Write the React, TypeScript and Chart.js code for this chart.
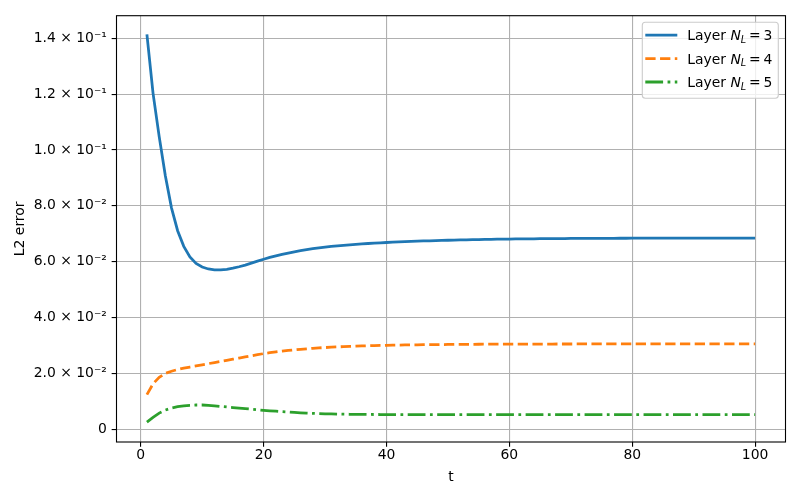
import React, { useEffect, useRef } from "react";
import { Chart, registerables } from "chart.js";

Chart.register(...registerables);

const tValues = [
  1, 2, 3, 4, 5, 6, 7, 8, 9, 10, 11, 12, 13, 14, 15, 16, 17, 18, 19, 20,
  21, 22, 23, 24, 25, 26, 27, 28, 29, 30, 31, 32, 33, 34, 35, 36, 37, 38, 39, 40,
  41, 42, 43, 44, 45, 46, 47, 48, 49, 50, 51, 52, 53, 54, 55, 56, 57, 58, 59, 60,
  61, 62, 63, 64, 65, 66, 67, 68, 69, 70, 71, 72, 73, 74, 75, 76, 77, 78, 79, 80,
  81, 82, 83, 84, 85, 86, 87, 88, 89, 90, 91, 92, 93, 94, 95, 96, 97, 98, 99, 100,
];

const layer3 = [
  0.1414, 0.1203, 0.1048, 0.0908, 0.0793, 0.0711, 0.0655, 0.0617, 0.0594, 0.0581,
  0.0574, 0.0571, 0.0571, 0.0573, 0.0577, 0.0582, 0.0588, 0.0595, 0.0602, 0.0609,
  0.06153, 0.06211, 0.06264, 0.06312, 0.06356, 0.06396, 0.06432, 0.06465, 0.06495, 0.06522,
  0.06547, 0.06569, 0.06589, 0.06607, 0.06624, 0.06639, 0.06653, 0.06666, 0.06678, 0.06689,
  0.06699, 0.06709, 0.06718, 0.06727, 0.06735, 0.06743, 0.0675, 0.06757, 0.06763, 0.06769,
  0.06775, 0.0678, 0.06785, 0.0679, 0.06794, 0.06798, 0.06802, 0.06806, 0.06809, 0.06812,
  0.06815, 0.06818, 0.0682, 0.06822, 0.06824, 0.06826, 0.06828, 0.0683, 0.06831, 0.06833,
  0.06834, 0.06835, 0.06836, 0.06837, 0.06838, 0.06839, 0.0684, 0.06841, 0.06841, 0.06842,
  0.06843, 0.06843, 0.06844, 0.06844, 0.06845, 0.06845, 0.06845, 0.06846, 0.06846, 0.06846,
  0.06847, 0.06847, 0.06847, 0.06847, 0.06847, 0.06847, 0.06847, 0.06847, 0.06847, 0.06847,
];

const layer4 = [
  0.0124, 0.0163, 0.0186, 0.02, 0.0208, 0.0214, 0.0219, 0.0223, 0.0227, 0.0231,
  0.0235, 0.0239, 0.0243, 0.0247, 0.0251, 0.0255, 0.0259, 0.0263, 0.0267, 0.0271,
  0.02742, 0.02772, 0.02799, 0.02823, 0.02845, 0.02865, 0.02883, 0.02899, 0.02914, 0.02927,
  0.02939, 0.0295, 0.0296, 0.02969, 0.02977, 0.02984, 0.02991, 0.02997, 0.03002, 0.03007,
  0.03011, 0.03015, 0.03019, 0.03022, 0.03025, 0.03028, 0.03031, 0.03033, 0.03035, 0.03037,
  0.03039, 0.03041, 0.03042, 0.03044, 0.03045, 0.03046, 0.03047, 0.03048, 0.03049, 0.0305,
  0.03051, 0.03051, 0.03052, 0.03052, 0.03053, 0.03053, 0.03053, 0.03054, 0.03054, 0.03054,
  0.03055, 0.03055, 0.03055, 0.03055, 0.03055, 0.03056, 0.03056, 0.03056, 0.03056, 0.03056,
  0.03056, 0.03056, 0.03056, 0.03056, 0.03056, 0.03056, 0.03056, 0.03056, 0.03056, 0.03056,
  0.03056, 0.03056, 0.03056, 0.03056, 0.03056, 0.03056, 0.03056, 0.03056, 0.03056, 0.03056,
];

const layer5 = [
  0.0026, 0.0043, 0.0058, 0.0069, 0.0076, 0.0081, 0.0084, 0.0086, 0.0087, 0.0087,
  0.0086, 0.0084, 0.0082, 0.008, 0.0078, 0.0076, 0.0074, 0.0072, 0.007, 0.0068,
  0.00663, 0.00647, 0.00631, 0.00617, 0.00603, 0.00591, 0.0058, 0.00571, 0.00563, 0.00556,
  0.0055, 0.00545, 0.00541, 0.00538, 0.00535, 0.00533, 0.00531, 0.0053, 0.00529, 0.00528,
  0.00527, 0.00527, 0.00526, 0.00526, 0.00526, 0.00525, 0.00525, 0.00525, 0.00525, 0.00525,
  0.00525, 0.00525, 0.00525, 0.00525, 0.00525, 0.00525, 0.00525, 0.00525, 0.00525, 0.00525,
  0.00525, 0.00525, 0.00525, 0.00525, 0.00525, 0.00525, 0.00525, 0.00525, 0.00525, 0.00525,
  0.00525, 0.00525, 0.00525, 0.00525, 0.00525, 0.00525, 0.00525, 0.00525, 0.00525, 0.00525,
  0.00525, 0.00525, 0.00525, 0.00525, 0.00525, 0.00525, 0.00525, 0.00525, 0.00525, 0.00525,
  0.00525, 0.00525, 0.00525, 0.00525, 0.00525, 0.00525, 0.00525, 0.00525, 0.00525, 0.00525,
];

const seriesValues = [layer3, layer4, layer5];
const seriesNL = ["3", "4", "5"];
const seriesPrefix = "Layer ";
const seriesColors = ["#1f77b4", "#ff7f0e", "#2ca02c"];
const seriesDash: number[][] = [[], [10.3, 4.45], [17.8, 4.45, 2.78, 4.45]];

const xTicks = [0, 20, 40, 60, 80, 100];
const xTickLabels = ["0", "20", "40", "60", "80", "100"];
const yTicks = [0, 0.02, 0.04, 0.06, 0.08, 0.1, 0.12, 0.14];
const yTickLabels = [
  "0",
  "2.0 × 10⁻²",
  "4.0 × 10⁻²",
  "6.0 × 10⁻²",
  "8.0 × 10⁻²",
  "1.0 × 10⁻¹",
  "1.2 × 10⁻¹",
  "1.4 × 10⁻¹",
];
const xTitle = "t";
const yTitle = "L2 error";

const FONT = "'DejaVu Sans'";
const FS = 13.9;
const LW = 2.78;

const framePlugin = {
  id: "mplFrame",
  afterDatasetsDraw(chart: any) {
    const { ctx, chartArea: a } = chart;
    ctx.save();
    ctx.strokeStyle = "#000";
    ctx.lineWidth = 1.1;
    ctx.setLineDash([]);
    ctx.strokeRect(a.left, a.top, a.right - a.left, a.bottom - a.top);
    ctx.restore();
  },
};

const legendPlugin = {
  id: "mplLegend",
  afterDraw(chart: any) {
    const { ctx, chartArea: a } = chart;
    const w = 136;
    const h = 76;
    const x0 = a.right - 7.2 - w;
    const y0 = a.top + 6.5;
    ctx.save();
    ctx.beginPath();
    if (ctx.roundRect) ctx.roundRect(x0, y0, w, h, 3);
    else ctx.rect(x0, y0, w, h);
    ctx.fillStyle = "rgba(255,255,255,0.8)";
    ctx.fill();
    ctx.strokeStyle = "#cccccc";
    ctx.lineWidth = 1.1;
    ctx.stroke();

    chart.data.datasets.forEach((ds: any, i: number) => {
      const cy = y0 + 13 + i * 23.4;
      ctx.beginPath();
      ctx.setLineDash(ds.borderDash || []);
      ctx.lineDashOffset = 0;
      ctx.strokeStyle = ds.borderColor;
      ctx.lineWidth = LW;
      ctx.lineCap = "butt";
      ctx.moveTo(x0 + 3, cy);
      ctx.lineTo(x0 + 35, cy);
      ctx.stroke();
      ctx.setLineDash([]);

      let x = x0 + 45;
      const base = cy + 5;
      ctx.fillStyle = "#000";
      ctx.textBaseline = "alphabetic";
      ctx.textAlign = "left";
      ctx.font = `${FS}px ${FONT}`;
      ctx.fillText(seriesPrefix, x, base);
      x += ctx.measureText(seriesPrefix).width;
      ctx.font = `italic ${FS}px ${FONT}`;
      ctx.fillText("N", x, base);
      x += ctx.measureText("N").width;
      ctx.font = `italic ${FS * 0.7}px ${FONT}`;
      ctx.fillText("L", x, base + 2.8);
      x += ctx.measureText("L").width;
      ctx.font = `${FS}px ${FONT}`;
      const rest = "\u2009=\u2009" + seriesNL[i];
      ctx.fillText(rest, x, base);
    });
    ctx.restore();
  },
};

export default function App() {
  const ref = useRef<HTMLCanvasElement | null>(null);

  useEffect(() => {
    if (!ref.current) return;
    const datasets = seriesValues.map((vals, i) => ({
      label: seriesPrefix + "N_L = " + seriesNL[i],
      data: tValues.map((t, j) => ({ x: t, y: vals[j] })),
      borderColor: seriesColors[i],
      backgroundColor: seriesColors[i],
      borderWidth: LW,
      borderDash: seriesDash[i],
      pointRadius: 0,
      pointHoverRadius: 0,
      tension: 0,
      fill: false,
    }));

    const chart = new Chart(ref.current, {
      type: "line",
      data: { datasets },
      options: {
        animation: false,
        responsive: false,
        devicePixelRatio: 1,
        layout: { padding: { top: 15.7, right: 14.5, left: 0, bottom: 0 } },
        plugins: {
          legend: { display: false },
          tooltip: { enabled: false },
        },
        scales: {
          x: {
            type: "linear",
            min: -3.95,
            max: 104.95,
            afterBuildTicks: (s: any) => {
              s.ticks = xTicks.map((v) => ({ value: v }));
            },
            afterFit: (s: any) => {
              s.height = 58;
            },
            ticks: {
              callback: (_v: any, i: number) => xTickLabels[i],
              color: "#000",
              font: { family: FONT, size: FS },
              padding: 0.5,
              maxRotation: 0,
              autoSkip: false,
            },
            grid: {
              color: "#b0b0b0",
              lineWidth: 1.1,
              tickColor: "#000",
              tickLength: 4.86,
              tickWidth: 1.1,
              drawTicks: true,
            },
            border: { display: false },
            title: {
              display: true,
              text: xTitle,
              color: "#000",
              font: { family: FONT, size: FS },
              padding: { top: 0, bottom: 14.2 },
            },
          },
          y: {
            type: "linear",
            min: -0.00455,
            max: 0.1481,
            afterBuildTicks: (s: any) => {
              s.ticks = yTicks.map((v) => ({ value: v }));
            },
            afterFit: (s: any) => {
              s.width = 116.5;
            },
            ticks: {
              callback: (_v: any, i: number) => yTickLabels[i],
              color: "#000",
              font: { family: FONT, size: FS },
              padding: 4.86,
              autoSkip: false,
            },
            grid: {
              color: "#b0b0b0",
              lineWidth: 1.1,
              tickColor: "#000",
              tickLength: 4.86,
              tickWidth: 1.1,
              drawTicks: true,
            },
            border: { display: false },
            title: {
              display: true,
              text: yTitle,
              color: "#000",
              font: { family: FONT, size: FS },
              padding: { top: 11.65, bottom: 0 },
            },
          },
        },
      },
      plugins: [framePlugin, legendPlugin],
    } as any);

    return () => chart.destroy();
  }, []);

  return (
    <div style={{ position: "fixed", left: 0, top: 0, width: 800, height: 500, background: "#fff" }}>
      <canvas ref={ref} width={800} height={500} style={{ width: 800, height: 500, display: "block" }} />
    </div>
  );
}
